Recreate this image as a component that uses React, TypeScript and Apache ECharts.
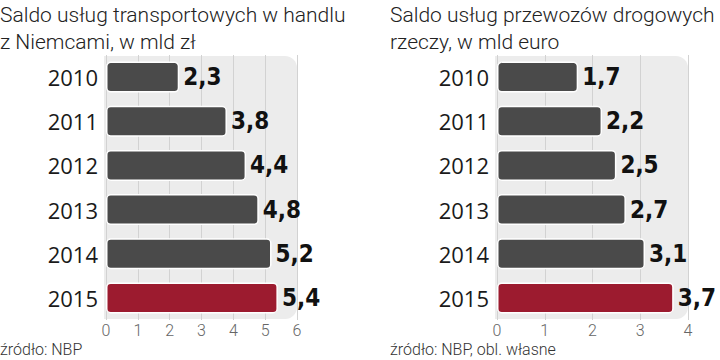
import React, { useEffect, useRef } from "react";
import * as echarts from "echarts";

const years = ["2010", "2011", "2012", "2013", "2014", "2015"];
const transportPLN = [2.3, 3.8, 4.4, 4.8, 5.2, 5.4];
const roadEUR = [1.7, 2.2, 2.5, 2.7, 3.1, 3.7];
const leftTitle = "Saldo usług transportowych w handlu\nz Niemcami, w mld zł";
const rightTitle = "Saldo usług przewozów drogowych\nrzeczy, w mld euro";
const leftSource = "źródło: NBP";
const rightSource = "źródło: NBP, obl. własne";

const GRAY = "#4a4a4a";
const RED = "#9c1b2f";

function items(vals: number[]) {
  return vals.map((v, i) => ({
    value: v,
    itemStyle: { color: i === vals.length - 1 ? RED : GRAY },
  }));
}

export default function App() {
  const ref = useRef<HTMLDivElement>(null);
  useEffect(() => {
    const chart = echarts.init(ref.current!, undefined, { renderer: "svg" });
    const catAxis = (gi: number) => ({
      type: "category",
      gridIndex: gi,
      data: years,
      inverse: true,
      axisLine: { show: false },
      axisTick: { show: false },
      axisLabel: {
        color: "#1a1a1a",
        fontSize: 22,
        fontFamily: "Open Sans",
        fontWeight: 500,
        margin: 8,
      },
    });
    const valAxis = (gi: number, max: number) => ({
      type: "value",
      gridIndex: gi,
      min: 0,
      max,
      interval: 1,
      axisLine: { show: false },
      axisTick: { show: false },
      splitLine: { show: true, lineStyle: { color: "#d2d2d2", width: 1 } },
      axisLabel: {
        color: "#666",
        fontSize: 16,
        fontFamily: "Roboto",
        fontWeight: 300,
        margin: 2,
      },
    });
    const barSeries = (idx: number, vals: number[]) => ({
      type: "bar",
      xAxisIndex: idx,
      yAxisIndex: idx,
      data: items(vals),
      barWidth: 31,
      itemStyle: { borderColor: "#ffffff", borderWidth: 1.5, borderRadius: 4 },
      label: {
        show: true,
        position: "right",
        distance: 4,
        color: "#111",
        fontSize: 24,
        fontWeight: "bold",
        fontFamily: "DejaVu Sans Condensed",
        formatter: (p: any) => String(p.value).replace(".", ","),
      },
    });
    chart.setOption({
      animation: false,
      grid: [
        { left: 106, right: 423, top: 55, bottom: 40 },
        { left: 497, right: 32, top: 55, bottom: 40 },
      ],
      xAxis: [valAxis(0, 6), valAxis(1, 4)],
      yAxis: [catAxis(0), catAxis(1)],
      series: [barSeries(0, transportPLN), barSeries(1, roadEUR)],
      graphic: [
        {
          type: "rect",
          z: -10,
          silent: true,
          shape: { x: 104, y: 56, width: 193, height: 263, r: [0, 12, 12, 0] },
          style: { fill: "#ececec" },
        },
        {
          type: "rect",
          z: -10,
          silent: true,
          shape: { x: 495, y: 56, width: 193, height: 263, r: [0, 12, 12, 0] },
          style: { fill: "#ececec" },
        },
        {
          type: "text",
          x: 0,
          y: 1,
          style: {
            text: leftTitle,
            fontSize: 21,
            fontFamily: "Roboto",
            fontWeight: 300,
            fill: "#222",
            lineHeight: 27,
          },
        },
        {
          type: "text",
          x: 390,
          y: 1,
          style: {
            text: rightTitle,
            fontSize: 21,
            fontFamily: "Roboto",
            fontWeight: 300,
            fill: "#222",
            lineHeight: 27,
          },
        },
        {
          type: "text",
          x: 0,
          y: 341,
          style: {
            text: leftSource,
            fontSize: 16,
            fontFamily: "Roboto",
            fontWeight: 300,
            fill: "#333",
          },
        },
        {
          type: "text",
          x: 390,
          y: 341,
          style: {
            text: rightSource,
            fontSize: 16,
            fontFamily: "Roboto",
            fontWeight: 300,
            fill: "#333",
          },
        },
      ],
    });
    return () => chart.dispose();
  }, []);
  return (
    <div
      ref={ref}
      style={{ width: 720, height: 360, position: "absolute", left: 0, top: 0, background: "#fff" }}
    />
  );
}
